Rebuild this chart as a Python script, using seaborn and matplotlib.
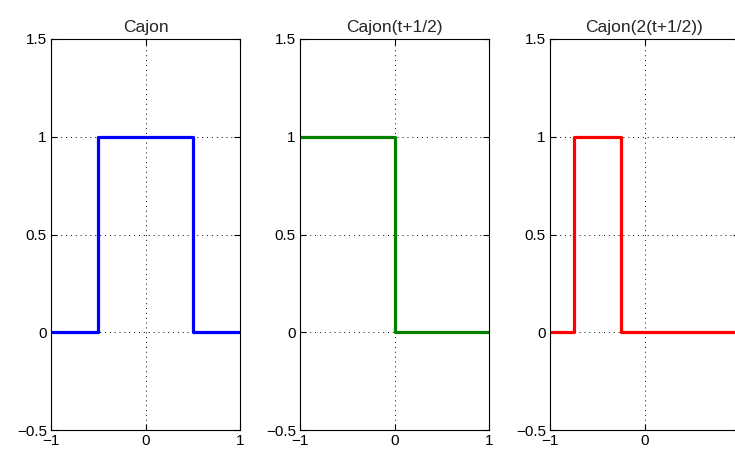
import matplotlib
matplotlib.use("Agg")
import matplotlib.pyplot as plt
import seaborn as sns

sns.set_style("ticks")
plt.rcParams['font.family'] = ['Liberation Sans', 'DejaVu Sans']

# ===== Data (breakpoints of the three box signals) =====
t_box = [-1, -0.5, -0.5, 0.5, 0.5, 1]
y_box = [0, 0, 1, 1, 0, 0]

t_shift = [-1, 0, 0, 1]
y_shift = [1, 1, 0, 0]

t_scaled = [-1, -0.75, -0.75, -0.25, -0.25, 1]
y_scaled = [0, 0, 1, 1, 0, 0]

titles = ["Cajon", "Cajon(t+1/2)", "Cajon(2(t+1/2))"]
colors = ["#0000ff", "#008000", "#ff0000"]
xticks = [-1, 0, 1]
xticklabels = ["\u22121", "0", "1"]
yticks = [-0.5, 0, 0.5, 1, 1.5]
yticklabels = ["\u22120.5", "0", "0.5", "1", "1.5"]

series = [(t_box, y_box), (t_shift, y_shift), (t_scaled, y_scaled)]

fig = plt.figure(figsize=(7.35, 4.5), dpi=100)
lefts = [51 / 735, 300 / 735, 550 / 735]
w = 189 / 735
b = 20 / 450
h = 391 / 450

for i, (tx, ty) in enumerate(series):
    ax = fig.add_axes([lefts[i], b, w, h])
    sns.lineplot(x=tx, y=ty, sort=False, estimator=None, color=colors[i],
                 linewidth=2.3, ax=ax)
    ax.set_xlim(-1, 1)
    ax.set_ylim(-0.5, 1.5)
    ax.set_xticks(xticks)
    # third panel runs past the right edge of the figure, its "1" is off-canvas
    labels = xticklabels if i < 2 else xticklabels[:2] + [""]
    ax.set_xticklabels(labels)
    ax.set_yticks(yticks)
    ax.set_yticklabels(yticklabels)
    ax.grid(True, linestyle=(0, (1, 4)), color="black", linewidth=0.7)
    ax.tick_params(direction="in", top=True, right=True, length=4,
                   width=0.8, labelsize=11, colors="black", pad=3)
    for sp in ax.spines.values():
        sp.set_visible(True)
        sp.set_color("black")
        sp.set_linewidth(0.8)
    ax.set_title(titles[i], fontsize=12.5, pad=5)

fig.savefig("out.png", dpi=100)
